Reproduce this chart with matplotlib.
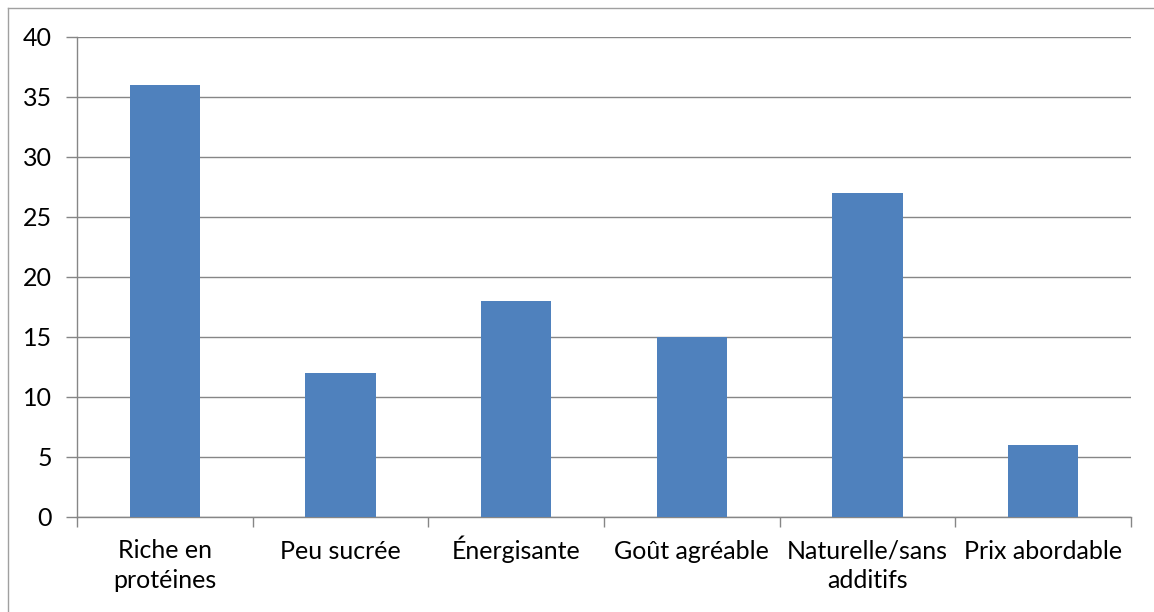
import matplotlib
matplotlib.use("Agg")
import matplotlib.pyplot as plt
import matplotlib.transforms as mtransforms
import numpy as np
from matplotlib.lines import Line2D

categories = ["Riche en\nprotéines", "Peu sucrée", "Énergisante", "Goût agréable",
              "Naturelle/sans\nadditifs", "Prix abordable"]
values = [36, 12, 18, 15, 27, 6]
yticks = [0, 5, 10, 15, 20, 25, 30, 35, 40]

plt.rcParams['font.family'] = ['Lato', 'DejaVu Sans']

W, H = 1154, 612
fig = plt.figure(figsize=(W / 100, H / 100), dpi=100)
ax = fig.add_axes([77 / W, 1 - 517 / H, (1131 - 77) / W, (517 - 37) / H])

x = np.arange(len(categories))
ax.bar(x, values, width=0.4, color='#4F81BD', zorder=3)

grid_c = '#868686'
ax.set_xlim(-0.5, len(categories) - 0.5)
ax.set_ylim(0, 40)
ax.set_yticks(yticks)
ax.yaxis.grid(True, color=grid_c, linewidth=1.0, zorder=0)
ax.tick_params(axis='y', length=8, width=1, color=grid_c, labelsize=18, pad=10,
               labelcolor='black')

ax.set_xticks(x)
ax.set_xticklabels([])
ax.set_xticks(np.arange(-0.5, len(categories), 1), minor=True)
ax.tick_params(axis='x', which='major', length=0)
ax.tick_params(axis='x', which='minor', length=7, width=1, color=grid_c)

# category labels, first-line baselines aligned (matplotlib 'baseline' = last line)
for xi, lab in zip(x, categories):
    nlines = lab.count("\n") + 1
    off_px = 42 + 29 * (nlines - 1)
    trans = ax.get_xaxis_transform() + mtransforms.ScaledTranslation(0, -off_px / 100, fig.dpi_scale_trans)
    ax.text(xi, 0, lab, transform=trans, ha='center', va='baseline',
            fontsize=18, color='black', linespacing=1.35, multialignment='center')

for s in ['top', 'right']:
    ax.spines[s].set_visible(False)
for s in ['left', 'bottom']:
    ax.spines[s].set_color(grid_c)
    ax.spines[s].set_linewidth(1.0)

# partial outer chart border (left and top)
fig.add_artist(Line2D([7.5 / W, 7.5 / W], [0, 1 - 7.5 / H], color='#A0A0A0', linewidth=1.0))
fig.add_artist(Line2D([7.5 / W, 1], [1 - 7.5 / H, 1 - 7.5 / H], color='#A0A0A0', linewidth=1.0))

fig.savefig("out.png", dpi=100)
